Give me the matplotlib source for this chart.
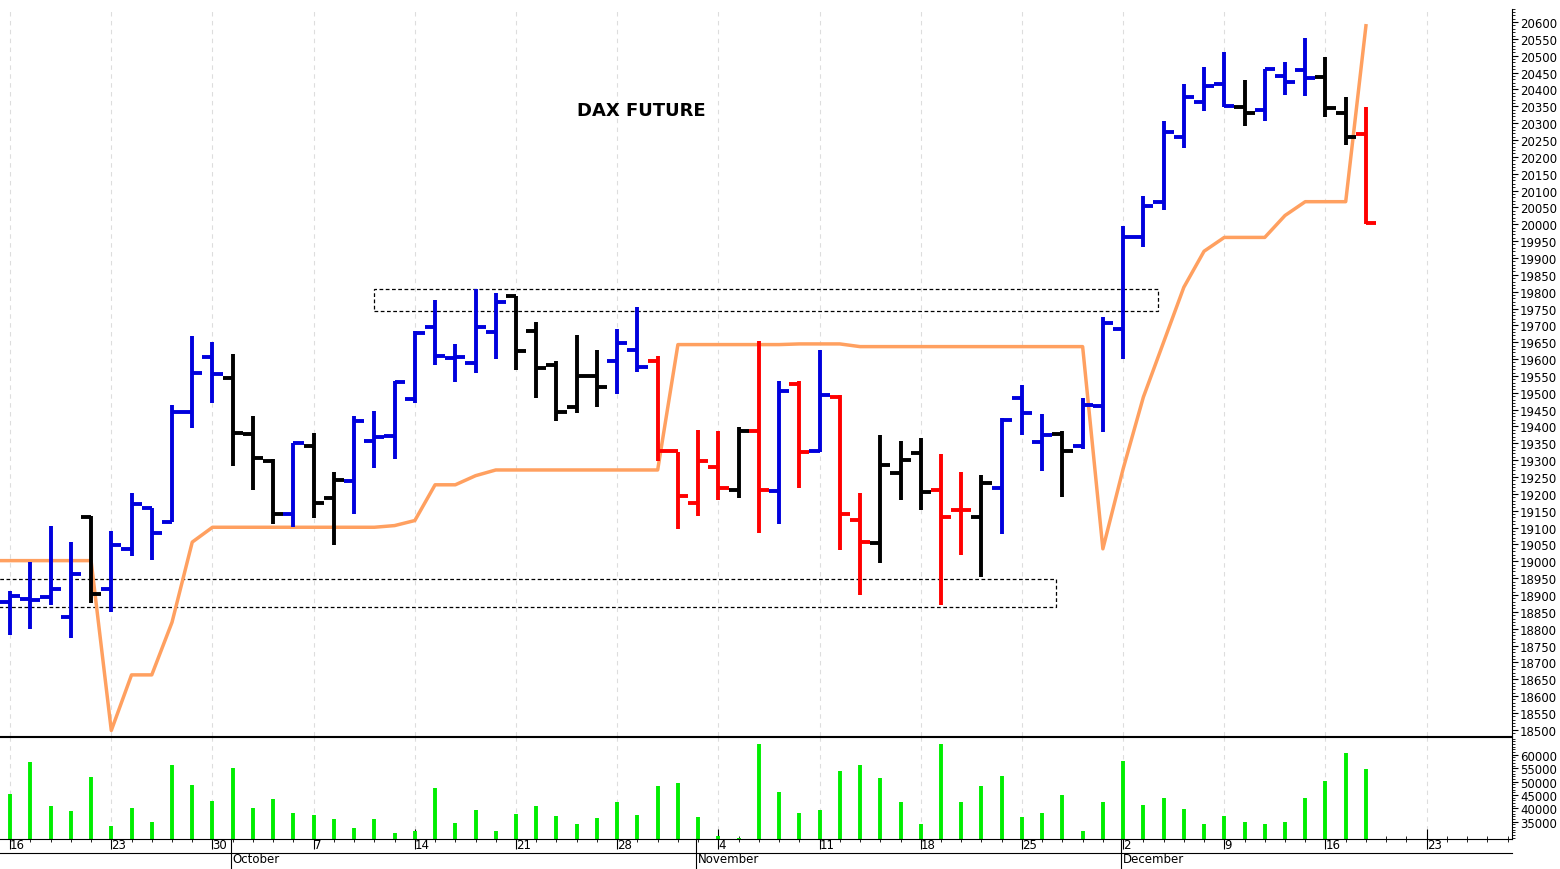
import matplotlib.pyplot as plt
from matplotlib.ticker import MultipleLocator, FixedLocator

# daily bars, 16 Sep - 18 Dec
opens = [18879, 18888, 18894, 18836, 19130, 18918, 19037, 19157, 19116, 19444,
         19605, 19543, 19378, 19299, 19141, 19343, 19187, 19237, 19356, 19373,
         19482, 19694, 19602, 19589, 19680, 19788, 19682, 19583, 19459, 19549,
         19595, 19627, 19595, 19328, 19172, 19279, 19213, 19388, 19208, 19526,
         19328, 19487, 19124, 19054, 19262, 19322, 19212, 19152, 19131, 19217,
         19485, 19353, 19378, 19343, 19462, 19689, 19961, 20067, 20258, 20362,
         20416, 20347, 20340, 20441, 20458, 20436, 20329, 20268]
highs = [18913, 18997, 19106, 19057, 19133, 19089, 19203, 19157, 19464, 19668,
         19652, 19615, 19432, 19304, 19351, 19380, 19264, 19432, 19447, 19536,
         19684, 19775, 19645, 19808, 19795, 19788, 19711, 19595, 19670, 19627,
         19689, 19754, 19608, 19324, 19391, 19386, 19398, 19655, 19536, 19536,
         19628, 19494, 19202, 19376, 19358, 19365, 19317, 19266, 19256, 19424,
         19523, 19437, 19388, 19484, 19726, 19996, 20085, 20307, 20416, 20466,
         20512, 20429, 20461, 20482, 20552, 20497, 20377, 20349]
lows = [18780, 18798, 18869, 18773, 18877, 18851, 19015, 19005, 19116, 19396,
        19470, 19284, 19212, 19111, 19101, 19128, 19049, 19141, 19277, 19304,
        19470, 19583, 19531, 19558, 19600, 19569, 19485, 19415, 19439, 19459,
        19497, 19561, 19299, 19096, 19134, 19182, 19187, 19084, 19111, 19218,
        19324, 19034, 18900, 18994, 19182, 19151, 18871, 19019, 18953, 19081,
        19376, 19267, 19190, 19333, 19383, 19600, 19932, 20042, 20225, 20337,
        20347, 20291, 20305, 20384, 20382, 20317, 20235, 20001]
closes = [18898, 18886, 18918, 18963, 18903, 19047, 19170, 19083, 19444, 19558,
          19556, 19381, 19307, 19141, 19350, 19172, 19241, 19415, 19370, 19531,
          19676, 19608, 19605, 19694, 19769, 19625, 19573, 19442, 19549, 19516,
          19648, 19576, 19328, 19193, 19297, 19218, 19388, 19213, 19504, 19324,
          19494, 19141, 19057, 19286, 19301, 19205, 19131, 19152, 19233, 19420,
          19439, 19375, 19327, 19464, 19707, 19963, 20055, 20275, 20377, 20411,
          20350, 20329, 20461, 20423, 20434, 20344, 20260, 20003]
B, K, R = '#0000dd', 'black', 'red'
colors = [B, B, B, B, K, B, B, B, B, B,
          B, K, K, K, B, K, K, B, B, B,
          B, B, B, B, B, K, K, K, K, K,
          B, B, R, R, R, R, K, R, B, R,
          B, R, R, K, K, K, R, R, K, B,
          B, B, K, B, B, B, B, B, B, B,
          B, K, B, B, B, K, K, R]
stop = [19002, 19002, 19002, 19002, 19002, 18498, 18663, 18663, 18819, 19057,
        19101, 19101, 19101, 19101, 19101, 19101, 19101, 19101, 19101, 19106,
        19121, 19227, 19227, 19254, 19271, 19271, 19271, 19271, 19271, 19271,
        19271, 19271, 19271, 19643, 19643, 19643, 19643, 19643, 19643, 19645,
        19645, 19645, 19637, 19637, 19637, 19637, 19637, 19637, 19637, 19637,
        19637, 19637, 19637, 19637, 19037, 19274, 19487, 19650, 19813, 19920,
        19961, 19961, 19961, 20026, 20067, 20067, 20067, 20589]
volume = [45390, 57500, 40770, 39010, 51760, 33500, 40140, 35000, 56260, 48760,
          42880, 55250, 40140, 43400, 38260, 37510, 36010, 32750, 36010, 30650,
          31400, 47640, 34510, 39390, 31400, 37890, 40770, 37250, 34250, 36270,
          42270, 37640, 48390, 49510, 36760, 29750, 28880, 64140, 46020, 38260,
          39270, 53760, 56260, 51270, 42510, 34140, 64140, 42270, 48390, 52020,
          36640, 38150, 45010, 31400, 42270, 57650, 41150, 43890, 39650, 34140,
          37140, 34890, 34140, 34760, 43890, 50380, 60650, 54760]
week_idx = list(range(0, 75, 5))
week_labels = ['16', '23', '30', '7', '14', '21', '28', '4', '11', '18', '25', '2', '9', '16', '23']
month_idx = [10.9, 33.9, 54.9]
month_labels = ['October', 'November', 'December']
upper_box = (18, 56.7, 19743, 19808)
lower_box = (-0.6, 51.7, 18865, 18948)

x = list(range(len(closes)))

fig = plt.figure(figsize=(15.6, 8.7), dpi=100)
ax = fig.add_axes([0, 0.153, 0.969, 0.836])
axv = fig.add_axes([0, 0.0345, 0.969, 0.1175], sharex=ax)

for a in (ax, axv):
    for w in week_idx:
        a.axvline(w, color='#dddddd', lw=0.8, ls=(0, (4, 4)), zorder=0)

ax.plot([-0.6] + x, [stop[0]] + stop, color='#ffa060', lw=2.5, zorder=2)
ax.vlines(x, lows, highs, colors=colors, lw=2.8, zorder=3)
ax.hlines(opens, [i - 0.5 for i in x], x, colors=colors, lw=2.8, zorder=3)
ax.hlines(closes, x, [i + 0.5 for i in x], colors=colors, lw=2.8, zorder=3)

for x0, x1, y0, y1 in (upper_box, lower_box):
    ax.add_patch(plt.Rectangle((x0, y0), x1 - x0, y1 - y0, fill=False,
                               ls=(0, (3, 2)), lw=0.9, ec='black', zorder=1))

ax.text(31.2, 20340, 'DAX FUTURE', fontsize=13, fontweight='bold', ha='center', va='center')

ax.set_xlim(-0.5, 74.2)
ax.set_ylim(18482, 20640)
ax.yaxis.tick_right()
ax.yaxis.set_major_locator(MultipleLocator(50))
ax.yaxis.set_minor_locator(MultipleLocator(10))
ax.tick_params(axis='y', labelsize=8.5, length=4, pad=2)
ax.tick_params(axis='y', which='minor', length=2)
ax.tick_params(axis='x', which='both', bottom=False, labelbottom=False)
for s in ('top', 'left'):
    ax.spines[s].set_visible(False)

axv.vlines(x, 0, volume, colors='#00ee00', lw=2.8)
axv.set_ylim(28500, 66760)
axv.yaxis.tick_right()
axv.yaxis.set_major_locator(FixedLocator(range(35000, 60001, 5000)))
axv.yaxis.set_minor_locator(MultipleLocator(1000))
axv.tick_params(axis='y', labelsize=8.5, length=4, pad=2)
axv.tick_params(axis='y', which='minor', length=2)
axv.set_xticks(week_idx)
axv.set_xticklabels(week_labels, ha='left', fontsize=8.5)
axv.set_xticks(x + list(range(68, 75)), minor=True)
axv.tick_params(axis='x', which='major', length=14, direction='inout', pad=-8)
axv.tick_params(axis='x', which='minor', length=5, direction='inout')
axv.spines['left'].set_visible(False)

for m, name in zip(month_idx, month_labels):
    xf = (m + 0.5) / 74.7 * 0.969
    fig.add_artist(plt.Line2D([xf, xf], [0.0, 0.034], color='black', lw=0.8))
    fig.text(xf + 0.001, 0.005, name, fontsize=8.5, ha='left', va='bottom')
fig.add_artist(plt.Line2D([0, 0.969], [0.018, 0.018], color='black', lw=0.8))

fig.savefig('out.png', dpi=100)
